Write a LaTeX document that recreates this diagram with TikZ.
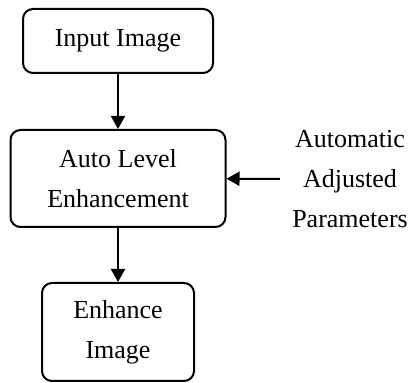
\documentclass[tikz,border=0pt]{standalone}
\usepackage{fontspec}
\setmainfont{Liberation Serif}
\usepackage{tikz}
\usetikzlibrary{arrows.meta}

\begin{document}
\begin{tikzpicture}[x=1pt, y=1pt, font=\fontsize{13}{20}\selectfont,
    block/.style={draw, line width=1pt, rounded corners=5pt, align=center},
    flow/.style={line width=1pt, -{Triangle[length=6.5pt, width=7pt]}}]
  \useasboundingbox (0,0) rectangle (205,191.5);
  \node (input) [block, minimum width=95pt, minimum height=32pt] at (59, 171) {Input Image};
  \node (auto) [block, minimum width=107.5pt, minimum height=48.5pt] at (59, 102.25) {Auto Level\\Enhancement};
  \node (output) [block, minimum width=76pt, minimum height=49pt] at (59, 25.5) {Enhance\\Image};
  \node (param) [align=center, inner sep=6pt] at (175, 102) {Automatic\\Adjusted\\Parameters};
  \draw [flow] (input) -- (auto);
  \draw [flow] (auto) -- (output);
  \draw [flow] (param) -- (auto);
\end{tikzpicture}
\end{document}
